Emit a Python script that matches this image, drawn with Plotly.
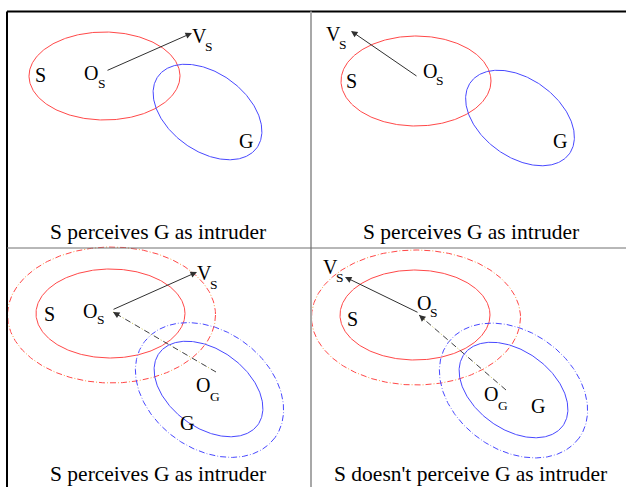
import numpy as np
import plotly.graph_objects as go

W, H = 626, 487

# ellipses (pixel coords, y for down): centre, semi-axes, rotation in degrees
ell_cx = [104.5, 207.5, 416, 520, 110.5, 111.5, 208.5, 209.5, 415, 416, 513.5, 513.5]
ell_cy = [76, 112, 81, 118, 313.5, 315, 389, 390, 315, 317.5, 390, 390.5]
ell_a = [75.5, 61, 75, 61, 74.5, 104, 61, 81, 75, 104.5, 61, 81]
ell_b = [44, 39, 45, 39, 44.5, 68, 39, 59, 45, 67.5, 39, 59]
ell_rot = [0, 36, 0, 36, 0, 0, 36, 36, 0, 0, 36, 36]
ell_kind = ['S', 'G', 'S', 'G', 'S', 'S_ext', 'G', 'G_ext', 'S', 'S_ext', 'G', 'G_ext']

# velocity arrows V_s (from O_s)
arr_x0 = [106, 418, 112, 419]
arr_y0 = [71, 77, 310, 313]
arr_x1 = [192, 351, 197, 345]
arr_y1 = [33, 31, 272, 277]

# dash-dot arrows O_G -> O_s
dd_x0 = [216, 506]
dd_y0 = [372, 390]
dd_x1 = [113, 419]
dd_y1 = [312, 315]

# letters
lab_text = ['S', 'O', 'S', 'V', 'S', 'G',
            'V', 'S', 'S', 'O', 'S', 'G',
            'S', 'O', 'S', 'V', 'S', 'O', 'G', 'G',
            'V', 'S', 'O', 'S', 'S', 'O', 'G', 'G']
lab_x = [40.5, 91, 102, 199, 209, 246,
         333, 343, 351, 430, 440, 560,
         49, 90, 101, 204, 214, 203, 215, 187,
         330, 340, 424, 434, 352.5, 491, 503, 538]
lab_y = [74.5, 73, 83, 36, 46, 141,
         34, 44, 81, 71, 80.5, 141,
         314, 311, 319, 273, 284.5, 385, 396, 423,
         267, 277.5, 303, 312.5, 319, 394, 405, 406]
lab_sub = [0, 0, 1, 0, 1, 0,
           0, 1, 0, 0, 1, 0,
           0, 0, 1, 0, 1, 0, 1, 0,
           0, 1, 0, 1, 0, 0, 1, 0]

# captions
cap_text = ['S perceives G as intruder', 'S perceives G as intruder',
            'S perceives G as intruder', "S doesn't perceive G as intruder"]
cap_x = [158, 471, 158, 470]
cap_y = [232, 232, 474, 474]

# frame lines
frm_x0 = [7, 7, 311, 7]
frm_y0 = [11.5, 11.5, 11.5, 248]
frm_x1 = [626, 7, 311, 626]
frm_y1 = [11.5, 487, 487, 248]
frm_col = ['black', 'black', '#a8a8a8', '#707070']
frm_w = [2, 2, 2, 1]

estilos = {
    'S': [dict(color='#ff4848', width=1)],
    'G': [dict(color='#4848ff', width=1)],
    'S_ext': [dict(color='#ff4848', width=1, dash='6px,5px'),
              dict(color='#ffa040', width=1, dash='0px,8px,1px,2px')],
    'G_ext': [dict(color='#4848ff', width=1, dash='6px,5px'),
              dict(color='#8080ff', width=1, dash='0px,8px,1px,2px')],
}

fig = go.Figure()

t = np.linspace(0, 2 * np.pi, 361)
for cx, cy, a, b, rot, kind in zip(ell_cx, ell_cy, ell_a, ell_b, ell_rot, ell_kind):
    th = np.radians(rot)
    x = cx + a * np.cos(t) * np.cos(th) - b * np.sin(t) * np.sin(th)
    y = cy + a * np.cos(t) * np.sin(th) + b * np.sin(t) * np.cos(th)
    for st in estilos[kind]:
        fig.add_trace(go.Scatter(x=x, y=y, mode='lines', line=st, hoverinfo='skip'))

# setas sólidas
for x0, y0, x1, y1 in zip(arr_x0, arr_y0, arr_x1, arr_y1):
    fig.add_annotation(x=x1, y=y1, ax=x0, ay=y0, xref='x', yref='y', axref='x', ayref='y',
                       text='', showarrow=True, arrowhead=2, arrowsize=1.3, arrowwidth=1,
                       arrowcolor='#303030')

# setas traço-ponto
for x0, y0, x1, y1 in zip(dd_x0, dd_y0, dd_x1, dd_y1):
    fig.add_trace(go.Scatter(x=[x0, x1], y=[y0, y1], mode='lines',
                             line=dict(color='#404040', width=1, dash='6px,5px'), hoverinfo='skip'))
    fig.add_trace(go.Scatter(x=[x0, x1], y=[y0, y1], mode='lines',
                             line=dict(color='#c8c040', width=1, dash='0px,8px,1px,2px'), hoverinfo='skip'))
    d = np.hypot(x1 - x0, y1 - y0)
    fig.add_annotation(x=x1, y=y1, ax=x1 - 9 * (x1 - x0) / d, ay=y1 - 9 * (y1 - y0) / d,
                       xref='x', yref='y', axref='x', ayref='y',
                       text='', showarrow=True, arrowhead=2, arrowsize=1.3, arrowwidth=1,
                       arrowcolor='#303030')

for txt, x, y, sub in zip(lab_text, lab_x, lab_y, lab_sub):
    fig.add_annotation(x=x, y=y, text=txt, showarrow=False, xanchor='center', yanchor='middle',
                       font=dict(family='Liberation Serif', size=13.5 if sub else 20, color='black'))

for txt, x, y in zip(cap_text, cap_x, cap_y):
    fig.add_annotation(x=x, y=y, text=txt, showarrow=False, xanchor='center', yanchor='middle',
                       font=dict(family='Liberation Serif', size=21.5, color='black'))

for x0, y0, x1, y1, c, w in zip(frm_x0, frm_y0, frm_x1, frm_y1, frm_col, frm_w):
    fig.add_shape(type='line', x0=x0, y0=y0, x1=x1, y1=y1, xref='x', yref='y',
                  line=dict(color=c, width=w))

fig.update_layout(
    width=W, height=H,
    margin=dict(l=0, r=0, t=0, b=0),
    plot_bgcolor='white', paper_bgcolor='white',
    showlegend=False,
    xaxis=dict(range=[0, W], visible=False, fixedrange=True),
    yaxis=dict(range=[H, 0], visible=False, fixedrange=True),
)

fig.write_html("out.html", post_script="document.body.style.margin='0';",
               config=dict(displayModeBar=False))
